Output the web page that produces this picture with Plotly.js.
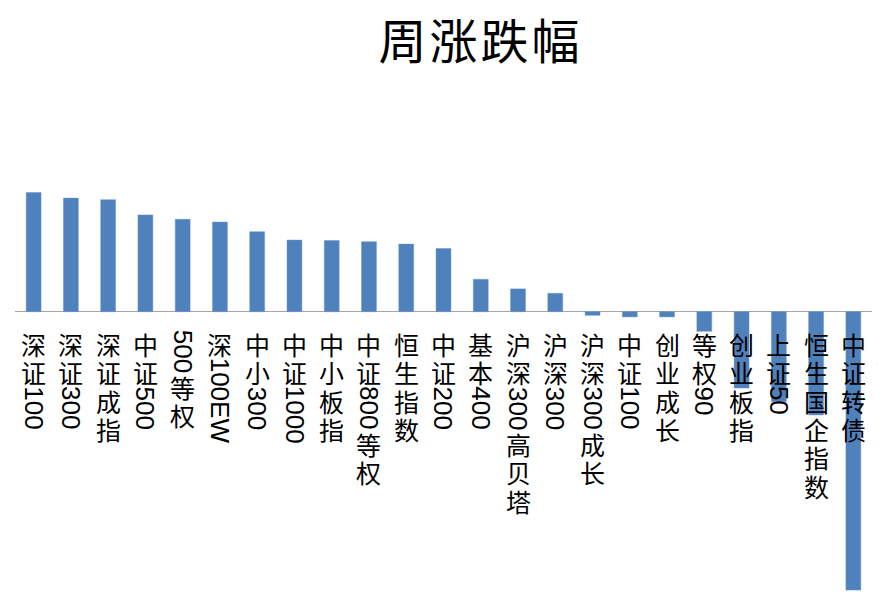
<!DOCTYPE html>
<html><head><meta charset="utf-8">
<script src="https://cdn.plot.ly/plotly-3.0.1.min.js"></script>
<style>html,body{margin:0;padding:0;background:#fff}#chart{width:879px;height:600px}</style>
</head><body><div id="chart"></div>
<script>
const categories = ['深证100','深证300','深证成指','中证500','500等权','深100EW','中小300','中证1000','中小板指','中证800等权','恒生指数','中证200','基本400','沪深300高贝塔','沪深300','沪深300成长','中证100','创业成长','等权90','创业板指','上证50','恒生国企指数','中证转债'];
const weeklyChange = [2.98, 2.84, 2.80, 2.42, 2.31, 2.24, 2.00, 1.79, 1.78, 1.75, 1.69, 1.58, 0.81, 0.57, 0.46, -0.09, -0.13, -0.13, -0.49, -1.91, -2.25, -2.58, -6.96];
const titleText = '周\u200A涨\u200A跌\u200A幅';

const CJK_FONT = 'Noto Sans CJK SC';
const LATIN_FONT = 'Liberation Sans';
const CJK_SIZE = 25;
const LATIN_SIZE = 26;
const CJK_STEP = 28.3;
const LABEL_START = 18;

const canvas = document.createElement('canvas');
const ctx = canvas.getContext('2d');
ctx.font = LATIN_SIZE + 'px "' + LATIN_FONT + '"';

// split a label into runs: CJK runs (stacked upright) and Latin runs (rotated)
function segments(label) {
  const out = [];
  let cur = null;
  for (const ch of label) {
    const latin = /[\x00-\x7F]/.test(ch);
    if (!cur || cur.latin !== latin) { cur = {latin: latin, chars: []}; out.push(cur); }
    cur.chars.push(ch);
  }
  return out;
}

const annotations = [];
categories.forEach((cat, i) => {
  let cursor = LABEL_START;
  segments(cat).forEach(seg => {
    if (seg.latin) {
      const txt = seg.chars.join('');
      const w = ctx.measureText(txt).width;
      annotations.push({x: i, y: 0, xref: 'x', yref: 'y', text: txt, textangle: 90, borderpad: 0,
        showarrow: false, xanchor: 'center', yanchor: 'middle', yshift: -(cursor + w / 2),
        font: {family: LATIN_FONT, size: LATIN_SIZE, color: '#000'}});
      cursor += w;
    } else {
      const n = seg.chars.length;
      const txt = seg.chars.map(c => '<span style="font-size:' + CJK_SIZE + 'px">' + c + '</span>').join('<br>');
      annotations.push({x: i, y: 0, xref: 'x', yref: 'y', text: txt, borderpad: 0,
        showarrow: false, xanchor: 'center', yanchor: 'middle', yshift: -(cursor + n * CJK_STEP / 2),
        font: {family: CJK_FONT, size: CJK_STEP / 1.3, color: '#000'}});
      cursor += n * CJK_STEP;
    }
  });
});

const trace = {
  type: 'bar',
  x: categories.map((c, i) => i),
  y: weeklyChange,
  marker: {color: '#4f81bd', line: {color: '#6a95cc', width: 0.5}},
  hoverinfo: 'skip'
};

const layout = {
  width: 879, height: 600,
  margin: {l: 15, r: 7, t: 170, b: 5},
  paper_bgcolor: '#fff', plot_bgcolor: '#fff',
  showlegend: false,
  bargap: 0.6,
  title: {text: titleText, font: {family: CJK_FONT, size: 48, color: '#000'},
    x: 479 / 879, xref: 'container', xanchor: 'center', y: 1 - 42 / 600, yref: 'container', yanchor: 'middle'},
  xaxis: {range: [-0.5, categories.length - 0.5], showticklabels: false, ticks: '', showline: false, showgrid: false, zeroline: false, fixedrange: true},
  yaxis: {range: [-7.0825, 3.5425], showticklabels: false, ticks: '', showline: false, showgrid: false,
    zeroline: true, zerolinecolor: '#a6a6a6', zerolinewidth: 1, fixedrange: true},
  annotations: annotations
};

Plotly.newPlot('chart', [trace], layout, {displayModeBar: false, staticPlot: true});
</script>
</body></html>
